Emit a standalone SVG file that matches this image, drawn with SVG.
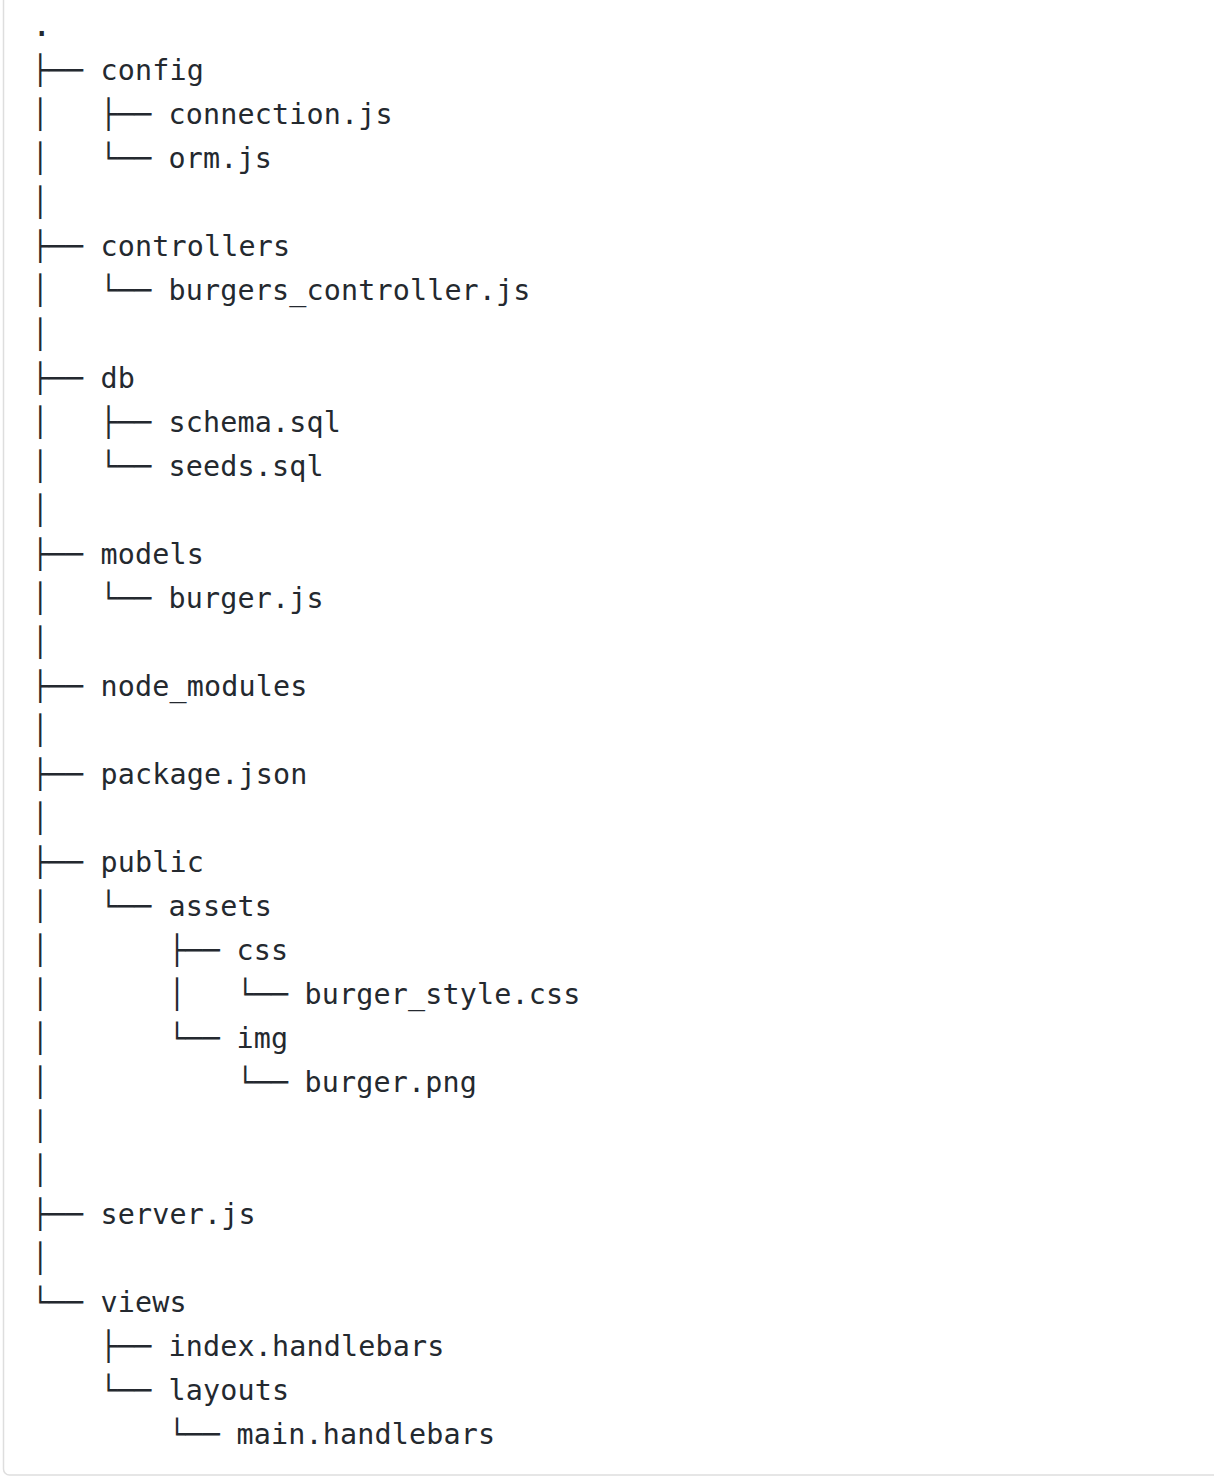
<svg xmlns="http://www.w3.org/2000/svg" width="1214" height="1482" viewBox="0 0 1214 1482">
<style>
text{font-family:"DejaVu Sans Mono","Liberation Mono",monospace;font-size:28.4px;fill:#24292f;white-space:pre}
.n{letter-spacing:0.15px}
</style>
<rect x="3.5" y="-20" width="1230" height="1495" rx="6" fill="#ffffff" stroke="#dedede" stroke-width="1.5"/>
<g id="connectors" xml:space="preserve">
<text x="31.5" y="80">├──</text>
<text x="31.5" y="124">│   ├──</text>
<text x="31.5" y="168">│   └──</text>
<text x="31.5" y="212">│</text>
<text x="31.5" y="256">├──</text>
<text x="31.5" y="300">│   └──</text>
<text x="31.5" y="344">│</text>
<text x="31.5" y="388">├──</text>
<text x="31.5" y="432">│   ├──</text>
<text x="31.5" y="476">│   └──</text>
<text x="31.5" y="520">│</text>
<text x="31.5" y="564">├──</text>
<text x="31.5" y="608">│   └──</text>
<text x="31.5" y="652">│</text>
<text x="31.5" y="696">├──</text>
<text x="31.5" y="740">│</text>
<text x="31.5" y="784">├──</text>
<text x="31.5" y="828">│</text>
<text x="31.5" y="872">├──</text>
<text x="31.5" y="916">│   └──</text>
<text x="31.5" y="960">│       ├──</text>
<text x="31.5" y="1004">│       │   └──</text>
<text x="31.5" y="1048">│       └──</text>
<text x="31.5" y="1092">│           └──</text>
<text x="31.5" y="1136">│</text>
<text x="31.5" y="1180">│</text>
<text x="31.5" y="1224">├──</text>
<text x="31.5" y="1268">│</text>
<text x="31.5" y="1312">└──</text>
<text x="31.5" y="1356">    ├──</text>
<text x="31.5" y="1400">    └──</text>
<text x="31.5" y="1444">        └──</text>
</g>
<g id="root"><text x="31.5" y="36" style="font-size:34px">.</text></g>
<g id="config"><text class="n" x="100.5" y="80">config</text></g>
<g id="connection_js"><text class="n" x="168.5" y="124">connection.js</text></g>
<g id="orm_js"><text class="n" x="168.5" y="168">orm.js</text></g>
<g id="controllers"><text class="n" x="100.5" y="256">controllers</text></g>
<g id="burgers_controller_js"><text class="n" x="168.5" y="300">burgers_controller.js</text></g>
<g id="db"><text class="n" x="100.5" y="388">db</text></g>
<g id="schema_sql"><text class="n" x="168.5" y="432">schema.sql</text></g>
<g id="seeds_sql"><text class="n" x="168.5" y="476">seeds.sql</text></g>
<g id="models"><text class="n" x="100.5" y="564">models</text></g>
<g id="burger_js"><text class="n" x="168.5" y="608">burger.js</text></g>
<g id="node_modules"><text class="n" x="100.5" y="696">node_modules</text></g>
<g id="package_json"><text class="n" x="100.5" y="784">package.json</text></g>
<g id="public"><text class="n" x="100.5" y="872">public</text></g>
<g id="assets"><text class="n" x="168.5" y="916">assets</text></g>
<g id="css"><text class="n" x="236.5" y="960">css</text></g>
<g id="burger_style_css"><text class="n" x="304.5" y="1004">burger_style.css</text></g>
<g id="img"><text class="n" x="236.5" y="1048">img</text></g>
<g id="burger_png"><text class="n" x="304.5" y="1092">burger.png</text></g>
<g id="server_js"><text class="n" x="100.5" y="1224">server.js</text></g>
<g id="views"><text class="n" x="100.5" y="1312">views</text></g>
<g id="index_handlebars"><text class="n" x="168.5" y="1356">index.handlebars</text></g>
<g id="layouts"><text class="n" x="168.5" y="1400">layouts</text></g>
<g id="main_handlebars"><text class="n" x="236.5" y="1444">main.handlebars</text></g>
</svg>
